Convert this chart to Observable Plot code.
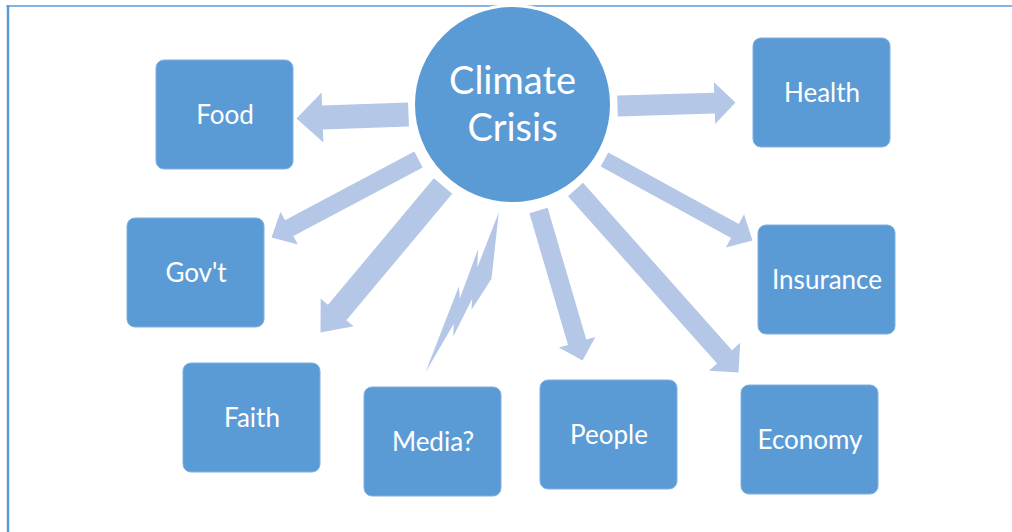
<!DOCTYPE html>
<html>
<head>
<meta charset="utf-8">
<script src="https://cdn.jsdelivr.net/npm/d3@7"></script>
<script src="https://cdn.jsdelivr.net/npm/@observablehq/plot@0.6"></script>
<style>
  html, body { margin: 0; padding: 0; background: #ffffff; }
  #chart svg { display: block; }
</style>
</head>
<body>
<div id="chart"></div>
<script>
// ---- data ----
const centerLabel = ["Climate", "Crisis"];
const centerPos = [512, 104];        // circle centre
const centerRadius = 99;

const nodeLabels = ["Food", "Health", "Gov't", "Insurance", "Faith", "Media?", "People", "Economy"];
const nodeLeft   = [156, 753, 127, 758, 183, 364, 540, 741];
const nodeTop    = [60,  38,  218, 225, 363, 387, 380, 385];
const nodeW = 137, nodeH = 109;

// block arrows: start (at circle) -> tip (at node)
const arrowTo    = ["Food", "Health", "Gov't", "Faith", "People", "Economy", "Insurance"];
const arrowStart = [[408,114],[617,105.5],[418,159],[442.5,185.5],[538,210],[575,189],[604,159]];
const arrowTip   = [[296,118],[735,102],[271,237],[320,332],[582,360],[738,372],[752,240]];
const shaftW     = [24, 21, 18, 24, 19, 20, 16];
const headW      = [50, 42, 37, 43, 38, 42, 38];
const headL      = [26, 21, 20, 26, 19, 21, 20];

// lightning bolt towards "Media?"
const boltX = [498.3, 491, 471, 471.7, 452.7, 453.3, 425, 458.3, 459.3, 477.7, 476.7];
const boltY = [211.7, 278.3, 309.3, 298.3, 336, 323.3, 371.7, 286, 298.3, 248.3, 267.3];

const frameLeftX = 7.5, frameTopY = 5.5;

// ---- derived tables ----
const blue = "#5B9BD5", light = "#B4C7E7";
const font = "Lato, 'Open Sans', sans-serif";

const boxes = nodeLabels.map((label, i) => ({
  label, x1: nodeLeft[i], x2: nodeLeft[i] + nodeW, y1: nodeTop[i], y2: nodeTop[i] + nodeH,
  cx: nodeLeft[i] + nodeW / 2, cy: nodeTop[i] + nodeH / 2 + 0.5
}));

const arrowPts = [];
arrowTo.forEach((id, i) => {
  const [sx, sy] = arrowStart[i], [tx, ty] = arrowTip[i];
  const L = Math.hypot(tx - sx, ty - sy);
  const ux = (tx - sx) / L, uy = (ty - sy) / L;
  const nx = -uy, ny = ux;
  const bx = tx - ux * headL[i], by = ty - uy * headL[i];
  const w = shaftW[i] / 2, h = headW[i] / 2;
  [[sx + nx*w, sy + ny*w], [bx + nx*w, by + ny*w], [bx + nx*h, by + ny*h], [tx, ty],
   [bx - nx*h, by - ny*h], [bx - nx*w, by - ny*w], [sx - nx*w, sy - ny*w]]
    .forEach(([x, y]) => arrowPts.push({id, x, y}));
});
const bolt = boltX.map((x, i) => ({x, y: boltY[i]}));

const centerText = centerLabel.map((t, i) => ({t, x: centerPos[0], y: centerPos[1] + (i === 0 ? -23 : 24)}));

const chart = Plot.plot({
  width: 1012,
  height: 532,
  margin: 0,
  x: {type: "linear", domain: [0, 1012], range: [0, 1012], axis: null},
  y: {type: "linear", domain: [0, 532], range: [0, 532], axis: null},
  style: {background: "#ffffff"},
  marks: [
    Plot.ruleX([frameLeftX], {y1: frameTopY - 0.5, y2: 532, stroke: blue, strokeWidth: 2.5}),
    Plot.ruleY([frameTopY], {x1: frameLeftX - 1, x2: 1012, stroke: blue, strokeWidth: 1.3}),
    Plot.line(arrowPts, {x: "x", y: "y", z: "id", fill: light, stroke: "none", curve: "linear"}),
    Plot.line(bolt, {x: "x", y: "y", fill: light, stroke: "none", curve: "linear"}),
    Plot.dot([centerPos], {x: d => d[0], y: d => d[1], r: centerRadius, fill: blue, stroke: "#ffffff", strokeWidth: 3}),
    Plot.text(centerText, {x: "x", y: "y", text: "t", fill: "#ffffff", fontSize: 38, fontFamily: font}),
    Plot.rect(boxes, {x1: "x1", x2: "x2", y1: "y1", y2: "y2", rx: 8, fill: blue, stroke: "#7fb0de", strokeWidth: 1}),
    Plot.text(boxes, {x: "cx", y: "cy", text: "label", fill: "#ffffff", fontSize: 26, fontFamily: font})
  ]
});
document.getElementById("chart").appendChild(chart);
</script>
</body>
</html>
